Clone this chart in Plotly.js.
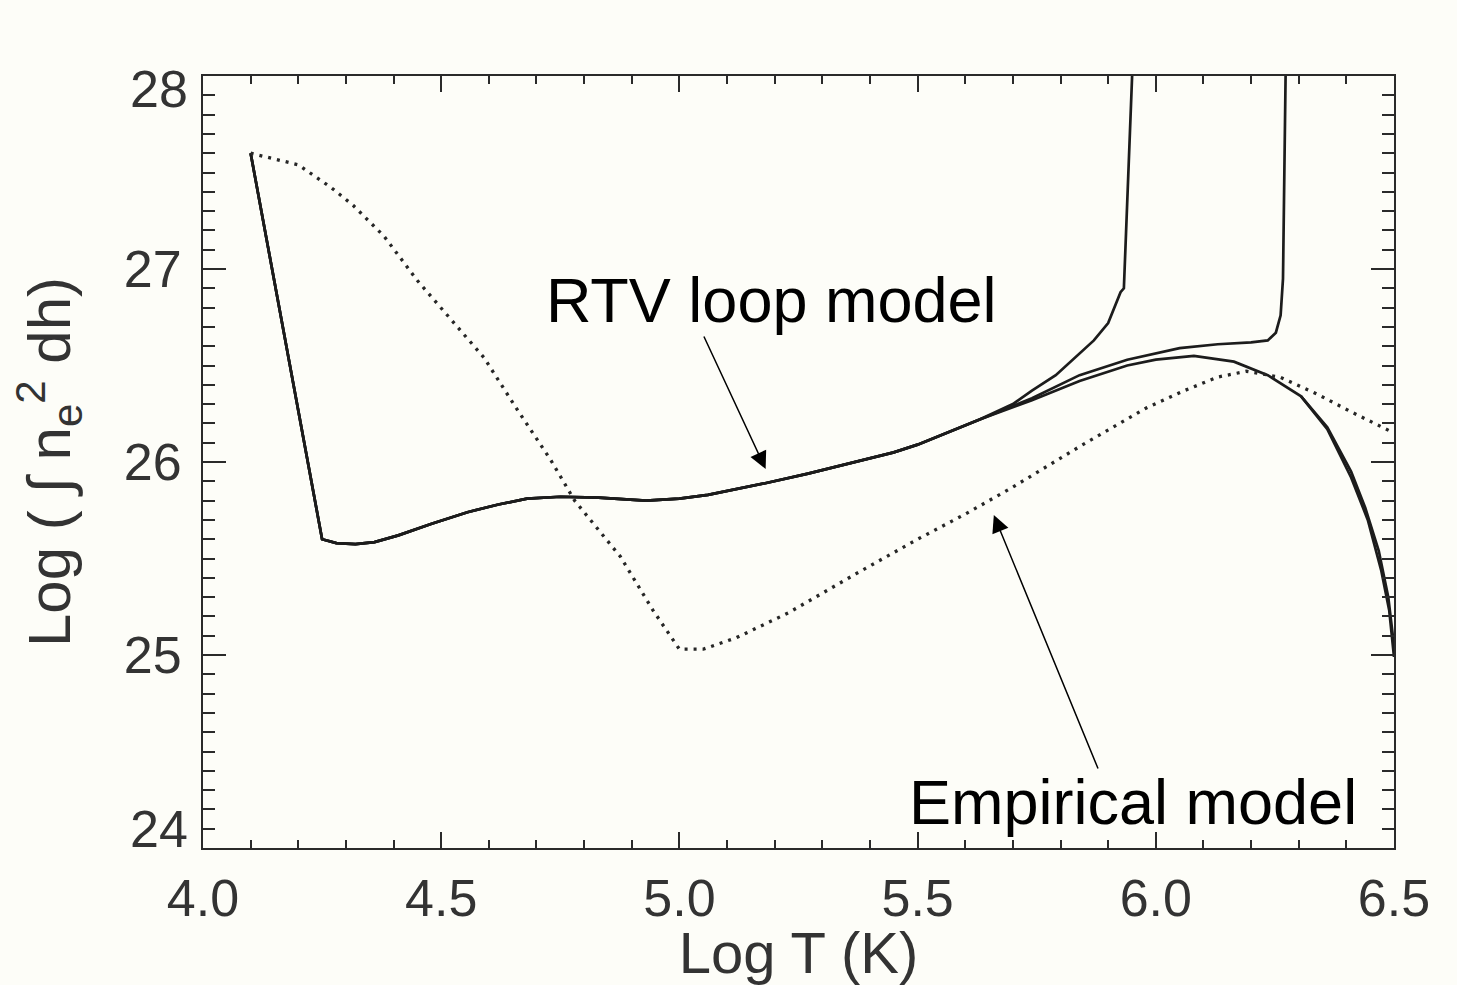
<!DOCTYPE html>
<html>
<head>
<meta charset="utf-8">
<script src="https://cdn.plot.ly/plotly-3.0.1.min.js"></script>
<style>
  html, body { margin: 0; padding: 0; background: #fdfdf8; }
  #plot { width: 1457px; height: 985px; }
</style>
</head>
<body>
<div id="plot"></div>
<script>
// Emission measure distributions: RTV loop models (solid) vs empirical model (dotted)

// Shared low-temperature part of the RTV loop curves
const rtvBaseT  = [4.10, 4.25, 4.28, 4.32, 4.36, 4.41, 4.48, 4.555, 4.62, 4.68, 4.75, 4.83, 4.93, 5.00, 5.06, 5.12, 5.18, 5.27, 5.37, 5.45, 5.50, 5.56, 5.63];
const rtvBaseEM = [27.60, 25.60, 25.58, 25.575, 25.585, 25.62, 25.68, 25.74, 25.78, 25.81, 25.82, 25.815, 25.80, 25.81, 25.83, 25.86, 25.89, 25.94, 26.00, 26.05, 26.09, 26.15, 26.22];

// Loop with the lowest apex temperature
const rtvAT  = [5.70, 5.74, 5.79, 5.84, 5.87, 5.90, 5.926, 5.933, 5.952, 5.955];
const rtvAEM = [26.30, 26.37, 26.45, 26.56, 26.63, 26.72, 26.88, 26.90, 28.00, 28.30];

// Loop with intermediate apex temperature
const rtvBT  = [5.74, 5.84, 5.94, 6.05, 6.13, 6.20, 6.235, 6.252, 6.262, 6.267, 6.272, 6.274];
const rtvBEM = [26.33, 26.45, 26.53, 26.59, 26.61, 26.62, 26.63, 26.67, 26.76, 26.95, 28.00, 28.30];

// Hottest loop, turning over near log T = 6.1
const rtvCT  = [5.74, 5.84, 5.94, 6.00, 6.08, 6.164, 6.235, 6.305, 6.36, 6.41, 6.445, 6.473, 6.49, 6.50];
const rtvCEM = [26.32, 26.42, 26.50, 26.53, 26.55, 26.52, 26.45, 26.34, 26.17, 25.92, 25.70, 25.44, 25.23, 24.99];

// Companion high-temperature tail running just beside the hottest loop
const rtvDT  = [6.305, 6.36, 6.41, 6.44, 6.468, 6.488, 6.50];
const rtvDEM = [26.34, 26.18, 25.95, 25.76, 25.54, 25.30, 25.05];

// Empirical emission measure
const empT  = [4.10, 4.20, 4.27, 4.315, 4.38, 4.45, 4.52, 4.59, 4.66, 4.73, 4.78, 4.876, 4.945, 4.987, 5.00, 5.05, 5.12, 5.23, 5.37, 5.50, 5.60, 5.70, 5.84, 5.98, 6.06, 6.13, 6.19, 6.26, 6.34, 6.41, 6.50];
const empEM = [27.60, 27.54, 27.42, 27.33, 27.17, 26.94, 26.74, 26.54, 26.27, 26.01, 25.80, 25.51, 25.23, 25.08, 25.03, 25.03, 25.09, 25.22, 25.42, 25.60, 25.73, 25.87, 26.08, 26.28, 26.37, 26.44, 26.47, 26.44, 26.35, 26.26, 26.15];

// Axis ticks
const xTickVals = [4.0, 4.5, 5.0, 5.5, 6.0, 6.5];
const xTickText = ['4.0', '4.5', '5.0', '5.5', '6.0', '6.5'];
const yTickVals = [24, 25, 26, 27, 28];
const yTickText = ['24', '25', '26', '27', '28'];

// Curve labels and the points their arrows indicate
const labelText = ['RTV loop model', 'Empirical model'];
const labelPos  = [[5.193, 26.84], [5.952, 24.24]];
const arrowTail = [[5.050, 26.658], [5.880, 24.404]];
const arrowTip  = [[5.181, 25.964], [5.660, 25.725]];

const solid = { color: '#1c1c1c', width: 2.7 };
function branch(t, em) {
  return {
    x: rtvBaseT.concat(t), y: rtvBaseEM.concat(em),
    mode: 'lines', line: solid, hoverinfo: 'skip', showlegend: false
  };
}

const traces = [
  branch(rtvAT, rtvAEM),
  branch(rtvBT, rtvBEM),
  branch(rtvCT, rtvCEM),
  { x: rtvDT, y: rtvDEM, mode: 'lines', line: solid, hoverinfo: 'skip', showlegend: false },
  { x: empT, y: empEM, mode: 'lines', line: { color: '#262626', width: 3.3, dash: '3px,6px' }, hoverinfo: 'skip', showlegend: false }
];

const fam = 'Liberation Sans, Arial, sans-serif';
const tickFont = { family: fam, size: 52, color: '#333333' };
const frame = '#2a2a2a';

const annotations = [];
for (let i = 0; i < labelText.length; i++) {
  annotations.push({
    x: labelPos[i][0], y: labelPos[i][1], xref: 'x', yref: 'y',
    text: labelText[i], showarrow: false, xanchor: 'center', yanchor: 'middle',
    font: { family: fam, size: 63, color: '#000000' }
  });
  annotations.push({
    x: arrowTip[i][0], y: arrowTip[i][1], xref: 'x', yref: 'y',
    ax: arrowTail[i][0], ay: arrowTail[i][1], axref: 'x', ayref: 'y',
    text: '', showarrow: true, arrowhead: 2, arrowsize: 2.3, arrowwidth: 1.5,
    arrowcolor: '#000000', standoff: 0, startstandoff: 0
  });
}
// End labels of the y axis sit inside the frame edges
annotations.push({
  x: 0, xref: 'paper', xanchor: 'right', xshift: -13,
  y: yTickVals[4], yref: 'y', yanchor: 'middle', yshift: -13,
  text: yTickText[4], showarrow: false, font: tickFont
});
annotations.push({
  x: 0, xref: 'paper', xanchor: 'right', xshift: -13,
  y: yTickVals[0], yref: 'y', yanchor: 'middle', yshift: 19,
  text: yTickText[0], showarrow: false, font: tickFont
});

const layout = {
  width: 1457, height: 985,
  margin: { l: 203, r: 63, t: 76, b: 137 },
  paper_bgcolor: '#fdfdf8', plot_bgcolor: '#fdfdf8',
  showlegend: false,
  xaxis: {
    range: [4.0, 6.5], tickvals: xTickVals, ticktext: xTickText,
    ticks: 'inside', ticklen: 16, tickwidth: 2, tickcolor: frame,
    minor: { dtick: 0.1, ticks: 'inside', ticklen: 8, tickwidth: 2, tickcolor: frame, showgrid: false },
    showline: true, linewidth: 2, linecolor: frame, mirror: 'allticks',
    showgrid: false, zeroline: false, tickfont: tickFont, ticklabelstandoff: 4,
    title: { text: 'Log T (K)', font: { family: fam, size: 58, color: '#333333' }, standoff: 18 }
  },
  yaxis: {
    range: [24, 28], tickvals: yTickVals, ticktext: ['', yTickText[1], yTickText[2], yTickText[3], ''],
    ticks: 'inside', ticklen: 23, tickwidth: 2, tickcolor: frame,
    minor: { dtick: 0.1, ticks: 'inside', ticklen: 12, tickwidth: 2, tickcolor: frame, showgrid: false },
    showline: true, linewidth: 2, linecolor: frame, mirror: 'allticks',
    showgrid: false, zeroline: false, tickfont: tickFont, ticklabelstandoff: 9,
    title: { text: 'Log ( \u222B n<sub>e</sub><sup>2</sup> dh)', font: { family: fam, size: 60, color: '#333333' }, standoff: 34 }
  },
  annotations: annotations
};

Plotly.newPlot('plot', traces, layout, { staticPlot: true, displayModeBar: false });
</script>
</body>
</html>
